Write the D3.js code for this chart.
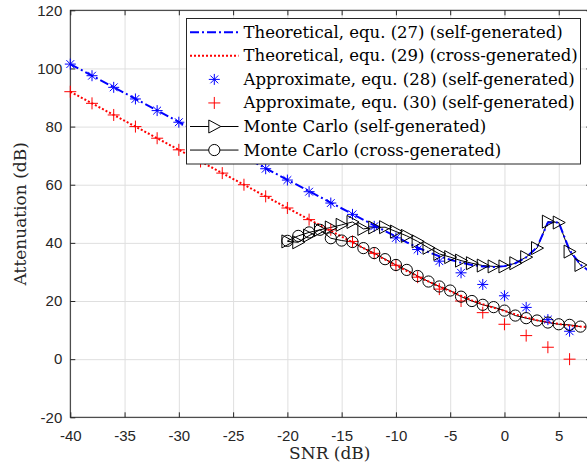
<!DOCTYPE html>
<html>
<head>
<meta charset="utf-8">
<script src="https://cdn.jsdelivr.net/npm/d3@7"></script>
<style>
  body { margin: 0; background: #fff; }
  svg { display: block; }
  .tick text { font-family: "Liberation Sans", Arial, sans-serif; font-size: 15px; fill: #262626; }
</style>
</head>
<body>
<div id="chart"></div>
<script>
// theoretical curves
var theoSelfX = [-40, -30, -20, -14, -12, -10, -9, -8, -7, -6, -5, -4, -3, -2, -1, 0, 1, 2, 3, 4, 5, 6, 7, 8];
var theoSelfY = [101.5, 81.6, 61.7, 49.9, 46.0, 42.2, 40.2, 38.4, 36.8, 35.4, 34.2, 33.2, 32.4, 31.9, 31.7, 32.0, 33.0, 35.0, 38.5, 47.0, 47.0, 37.5, 32.5, 29.8];
var theoCrossX = [-40, -30, -20, -10, -8, -6, -5, -4, -3, -2, -1, 0, 1, 2, 3, 4, 5, 6, 7, 8];
var theoCrossY = [92.0, 72.0, 52.0, 32.3, 28.4, 25.0, 23.4, 21.8, 20.2, 18.9, 17.7, 16.6, 15.4, 14.3, 13.4, 12.7, 12.1, 11.6, 11.2, 10.9];

// approximations (every 2 dB)
var approxX = [-40, -38, -36, -34, -32, -30, -28, -26, -24, -22, -20, -18, -16, -14, -12, -10, -8, -6, -4, -2, 0, 2, 4, 6];
var approxSelfY = [101.5, 97.5, 93.5, 89.5, 85.5, 81.5, 77.5, 73.5, 69.5, 65.5, 61.6, 57.6, 53.7, 49.8, 45.7, 41.7, 37.7, 33.7, 29.7, 25.7, 21.8, 17.8, 13.6, 9.6];
var approxCrossY = [92.0, 88.0, 84.0, 80.0, 76.0, 72.0, 68.0, 64.0, 60.0, 56.0, 52.0, 48.0, 44.5, 40.5, 36.4, 32.3, 28.2, 24.1, 20.0, 16.0, 12.0, 8.1, 4.1, 0.0];

// Monte Carlo (every 1 dB)
var mcX = [-20, -19, -18, -17, -16, -15, -14, -13, -12, -11, -10, -9, -8, -7, -6, -5, -4, -3, -2, -1, 0, 1, 2, 3, 4, 5, 6, 7];
var mcSelfY = [40.5, 40.2, 42.5, 44.5, 45.3, 46.2, 47.2, 44.8, 45.3, 45.4, 43.9, 42.4, 40.5, 38.3, 36.2, 35.1, 33.9, 33.0, 32.2, 31.9, 31.9, 33.0, 35.1, 38.2, 47.3, 47.0, 37.0, 32.4];
var mcCrossY = [40.7, 42.4, 43.6, 44.5, 41.6, 40.8, 40.3, 38.2, 36.5, 34.4, 32.4, 30.7, 28.6, 26.7, 25.0, 23.6, 21.5, 20.0, 18.7, 17.9, 16.7, 15.0, 14.1, 13.3, 12.6, 12.0, 11.8, 11.2];

var xTicks = [-40, -35, -30, -25, -20, -15, -10, -5, 0, 5];
var yTicks = [-20, 0, 20, 40, 60, 80, 100, 120];

var legendLabels = [
  "Theoretical, equ. (27) (self-generated)",
  "Theoretical, equ. (29) (cross-generated)",
  "Approximate, equ. (28) (self-generated)",
  "Approximate, equ. (30) (self-generated)",
  "Monte Carlo (self-generated)",
  "Monte Carlo (cross-generated)"
];

var W = 587, H = 465;
var pL = 70.3, pR = 591.3, pT = 10.3, pB = 417.3;

var x = d3.scaleLinear().domain([-40, 8]).range([pL, pR]);
var y = d3.scaleLinear().domain([-20, 120]).range([pB, pT]);
var fmt = function(d) { return String(d); };

var svg = d3.select("#chart").append("svg")
    .attr("width", W)
    .attr("height", H);

// grid
svg.append("g")
    .attr("transform", "translate(0," + pB + ")")
    .call(d3.axisBottom(x).tickValues(xTicks).tickSize(-(pB - pT)).tickFormat(""))
    .call(function(g) { g.select(".domain").remove(); })
    .selectAll("line").attr("stroke", "#dfdfdf").attr("stroke-width", 1);
svg.append("g")
    .attr("transform", "translate(" + pL + ",0)")
    .call(d3.axisLeft(y).tickValues(yTicks).tickSize(-(pR - pL)).tickFormat(""))
    .call(function(g) { g.select(".domain").remove(); })
    .selectAll("line").attr("stroke", "#dfdfdf").attr("stroke-width", 1);

// box
svg.append("rect")
    .attr("x", pL).attr("y", pT)
    .attr("width", pR - pL).attr("height", pB - pT)
    .attr("fill", "none").attr("stroke", "#262626").attr("stroke-width", 1);

// axes (inward ticks)
var xAxis = svg.append("g")
    .attr("transform", "translate(0," + pB + ")")
    .call(d3.axisBottom(x).tickValues(xTicks).tickSize(-5).tickPadding(13).tickFormat(fmt));
xAxis.select(".domain").remove();
xAxis.selectAll("line").attr("stroke", "#262626");

svg.append("g")
    .attr("transform", "translate(0," + pT + ")")
    .call(d3.axisTop(x).tickValues(xTicks).tickSize(-5).tickFormat(""))
    .call(function(g) { g.select(".domain").remove(); })
    .selectAll("line").attr("stroke", "#262626");

var yAxis = svg.append("g")
    .attr("transform", "translate(" + pL + ",0)")
    .call(d3.axisLeft(y).tickValues(yTicks).tickSize(-5).tickPadding(8).tickFormat(fmt));
yAxis.select(".domain").remove();
yAxis.selectAll("line").attr("stroke", "#262626");

svg.append("g")
    .attr("transform", "translate(" + pR + ",0)")
    .call(d3.axisRight(y).tickValues(yTicks).tickSize(-5).tickFormat(""))
    .call(function(g) { g.select(".domain").remove(); })
    .selectAll("line").attr("stroke", "#262626");

// axis labels
svg.append("text")
    .attr("x", (pL + pR) / 2 - 1).attr("y", 459)
    .attr("text-anchor", "middle")
    .style("font-family", "'DejaVu Serif', serif").style("font-size", "17px")
    .attr("fill", "#262626")
    .text("SNR (dB)");
svg.append("text")
    .attr("transform", "translate(26," + ((pT + pB) / 2) + ") rotate(-90)")
    .attr("text-anchor", "middle")
    .style("font-family", "'DejaVu Serif', serif").style("font-size", "17px")
    .attr("fill", "#262626")
    .text("Attenuation (dB)");

function zip(xs, ys) { return xs.map(function(v, i) { return [v, ys[i]]; }); }
var line = d3.line().x(function(d) { return x(d[0]); }).y(function(d) { return y(d[1]); });

// marker shapes
var starPath = "M0,-5.5L0,5.5M-5.5,0L5.5,0M-3.9,-3.9L3.9,3.9M-3.9,3.9L3.9,-3.9";
var plusPath = "M0,-6L0,6M-6,0L6,0";
var triPath = "M-5.5,-6.5L-5.5,6.5L6.5,0Z";

// Monte Carlo lines (black)
svg.append("path").datum(zip(mcX, mcSelfY))
    .attr("d", line).attr("fill", "none").attr("stroke", "#000").attr("stroke-width", 1);
svg.append("path").datum(zip(mcX, mcCrossY))
    .attr("d", line).attr("fill", "none").attr("stroke", "#000").attr("stroke-width", 1);

// theoretical lines
svg.append("path").datum(zip(theoSelfX, theoSelfY))
    .attr("d", line).attr("fill", "none").attr("stroke", "#0000ff")
    .attr("stroke-width", 2).attr("stroke-dasharray", "9,3,2,3");
svg.append("path").datum(zip(theoCrossX, theoCrossY))
    .attr("d", line).attr("fill", "none").attr("stroke", "#ff0000")
    .attr("stroke-width", 2).attr("stroke-dasharray", "2,2");

// approx markers
svg.append("g").selectAll("path").data(zip(approxX, approxSelfY)).join("path")
    .attr("transform", function(d) { return "translate(" + x(d[0]) + "," + y(d[1]) + ")"; })
    .attr("d", starPath).attr("stroke", "#0000ff").attr("stroke-width", 1).attr("fill", "none");
svg.append("g").selectAll("path").data(zip(approxX, approxCrossY)).join("path")
    .attr("transform", function(d) { return "translate(" + x(d[0]) + "," + y(d[1]) + ")"; })
    .attr("d", plusPath).attr("stroke", "#ff0000").attr("stroke-width", 1).attr("fill", "none");

// MC markers
svg.append("g").selectAll("path").data(zip(mcX, mcSelfY)).join("path")
    .attr("transform", function(d) { return "translate(" + x(d[0]) + "," + y(d[1]) + ")"; })
    .attr("d", triPath).attr("stroke", "#000").attr("stroke-width", 1).attr("fill", "none");
svg.append("g").selectAll("circle").data(zip(mcX, mcCrossY)).join("circle")
    .attr("cx", function(d) { return x(d[0]); })
    .attr("cy", function(d) { return y(d[1]); })
    .attr("r", 5.6).attr("stroke", "#000").attr("stroke-width", 1).attr("fill", "none");

// legend
var lg = svg.append("g");
lg.append("rect")
    .attr("x", 186.5).attr("y", 18.5).attr("width", 394).attr("height", 145.5)
    .attr("fill", "#fff").attr("stroke", "#262626").attr("stroke-width", 1);

var rowY = d3.range(legendLabels.length).map(function(i) { return 32.3 + i * 23.55; });
var lx0 = 190, lx1 = 238.5, lxm = 214.3;

legendLabels.forEach(function(lab, i) {
  var cy = rowY[i];
  if (i === 0) {
    lg.append("line").attr("x1", lx0).attr("x2", lx1).attr("y1", cy).attr("y2", cy)
      .attr("stroke", "#0000ff").attr("stroke-width", 2).attr("stroke-dasharray", "9,3,2,3");
  } else if (i === 1) {
    lg.append("line").attr("x1", lx0).attr("x2", lx1).attr("y1", cy).attr("y2", cy)
      .attr("stroke", "#ff0000").attr("stroke-width", 2).attr("stroke-dasharray", "2,2");
  } else if (i === 2) {
    lg.append("path").attr("transform", "translate(" + lxm + "," + cy + ")")
      .attr("d", starPath).attr("stroke", "#0000ff").attr("fill", "none");
  } else if (i === 3) {
    lg.append("path").attr("transform", "translate(" + lxm + "," + cy + ")")
      .attr("d", plusPath).attr("stroke", "#ff0000").attr("fill", "none");
  } else {
    lg.append("line").attr("x1", lx0).attr("x2", lx1).attr("y1", cy).attr("y2", cy)
      .attr("stroke", "#000").attr("stroke-width", 1);
    if (i === 4) {
      lg.append("path").attr("transform", "translate(" + lxm + "," + cy + ")")
        .attr("d", triPath).attr("stroke", "#000").attr("fill", "#fff");
    } else {
      lg.append("circle").attr("cx", lxm).attr("cy", cy).attr("r", 5.6)
        .attr("stroke", "#000").attr("fill", "#fff");
    }
  }
  lg.append("text")
    .attr("x", 243.5).attr("y", cy + 5.5)
    .style("font-family", "'DejaVu Serif', serif").style("font-size", "16.5px")
    .attr("fill", "#000")
    .text(lab);
});
</script>
</body>
</html>
